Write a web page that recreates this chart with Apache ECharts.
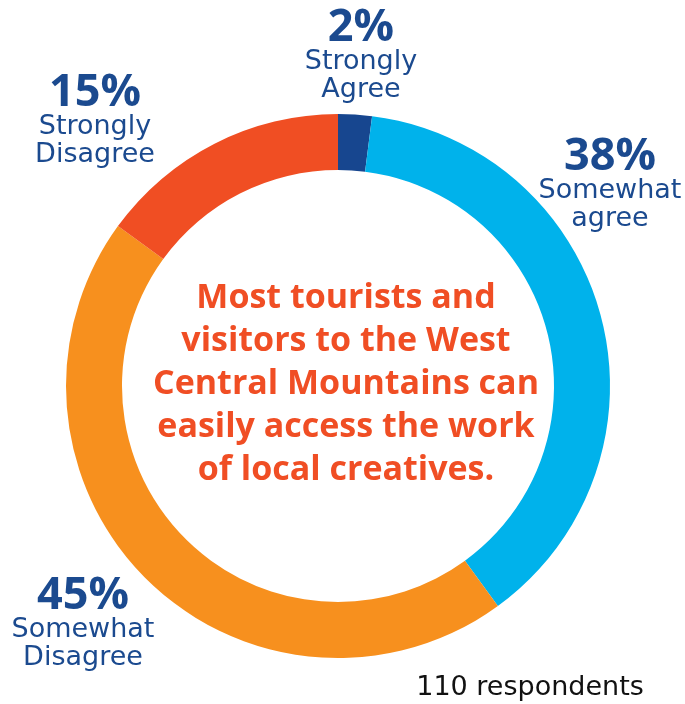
<!DOCTYPE html>
<html>
<head>
<meta charset="utf-8">
<title>Access to local creative work</title>
<script src="https://cdn.jsdelivr.net/npm/echarts@6/dist/echarts.min.js"></script>
<style>
  html, body { margin: 0; padding: 0; background: #ffffff; }
  #chart { width: 685px; height: 704px; }
</style>
</head>
<body>
<div id="chart"></div>
<script>
// Survey responses, clockwise from the top of the ring
const categories = ['Strongly Agree', 'Somewhat agree', 'Somewhat Disagree', 'Strongly Disagree'];
const percents = [2, 38, 45, 15];
const sliceColors = ['#17468f', '#00b2eb', '#f7901e', '#f04e23'];
const statement = [
  'Most tourists and',
  'visitors to the West',
  'Central Mountains can',
  'easily access the work',
  'of local creatives.'
];
const respondents = 110;

// Where each slice's label block sits (centre of the block)
const labelSpots = [
  [361, 56],
  [610, 185],
  [83, 624],
  [95, 121]
];

const navy = '#1b4a8f';
const chart = echarts.init(document.getElementById('chart'));

chart.setOption({
  backgroundColor: '#ffffff',
  animation: false,
  series: [{
    type: 'pie',
    center: [338, 386],
    radius: [216, 272],
    startAngle: 90,
    clockwise: true,
    avoidLabelOverlap: false,
    silent: true,
    data: categories.map((name, i) => ({
      name: name,
      value: percents[i],
      itemStyle: { color: sliceColors[i] }
    })),
    itemStyle: { borderWidth: 0 },
    label: {
      show: true,
      position: 'outside',
      formatter: p => '{p|' + p.value + '%}\n' + p.name.split(' ').map(w => '{n|' + w + '}').join('\n'),
      rich: {
        p: { fontFamily: 'Open Sans', fontWeight: 'bold', fontSize: 45, lineHeight: 40, color: navy, align: 'center' },
        n: { fontFamily: 'DejaVu Sans', fontSize: 27, lineHeight: 28, color: navy, align: 'center' }
      }
    },
    labelLine: { show: false },
    labelLayout: params => ({
      x: labelSpots[params.dataIndex][0],
      y: labelSpots[params.dataIndex][1],
      align: 'center',
      verticalAlign: 'middle'
    })
  }],
  graphic: [
    {
      type: 'text',
      x: 346, y: 384,
      style: {
        text: statement.join('\n'),
        font: 'bold 34px "Open Sans"',
        fill: '#f04e24',
        align: 'center',
        verticalAlign: 'middle',
        lineHeight: 43
      }
    },
    {
      type: 'text',
      x: 530, y: 688,
      style: {
        text: respondents + ' respondents',
        font: '27px "DejaVu Sans"',
        fill: '#111111',
        align: 'center',
        verticalAlign: 'middle'
      }
    }
  ]
});
</script>
</body>
</html>
